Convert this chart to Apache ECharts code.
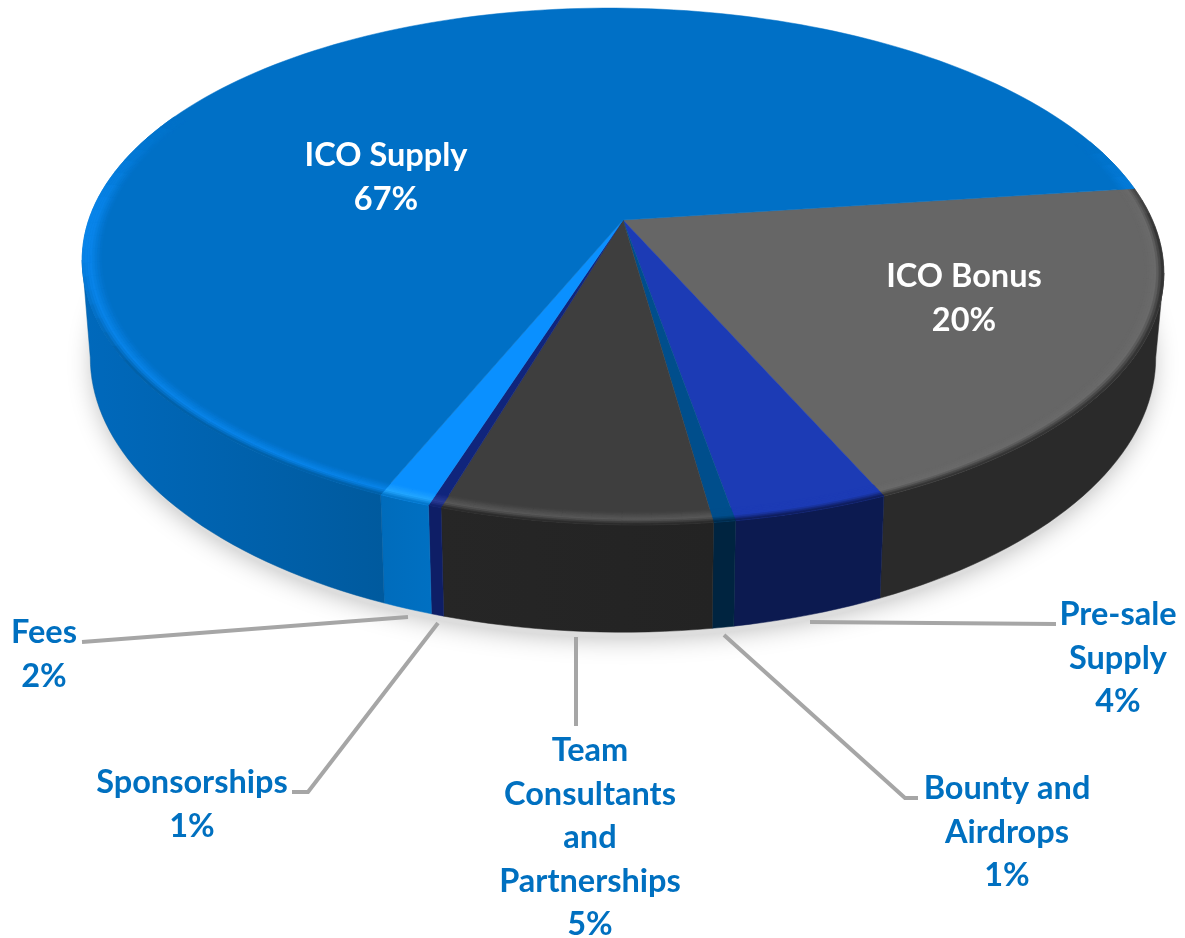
<!DOCTYPE html>
<html>
<head>
<meta charset="utf-8">
<title>Token distribution</title>
<script src="https://cdn.jsdelivr.net/npm/echarts@6/dist/echarts.min.js"></script>
<style>
    html, body { margin: 0; padding: 0; background: #fff; }
    #main { width: 1185px; height: 938px; }
</style>
</head>
<body>
<div id="main"></div>
<script>
// slices, clockwise from the ICO Bonus edge
var categories = ['ICO Bonus', 'Pre-sale Supply', 'Bounty and Airdrops', 'Team Consultants and Partnerships', 'Sponsorships', 'Fees', 'ICO Supply'];
// share of the circle as drawn in the picture (the printed labels are rounded differently)
var sliceShares = [20.75, 3.94, 0.55, 6.8, 0.33, 1.3, 66.33];
// percentages printed on the labels
var labelPercents = ['20%', '4%', '1%', '5%', '1%', '2%', '67%'];
// wrapped label lines
var labelLines = [['ICO Bonus'], ['Pre-sale', 'Supply'], ['Bounty and', 'Airdrops'], ['Team', 'Consultants', 'and', 'Partnerships'], ['Sponsorships'], ['Fees'], ['ICO Supply']];

// styles
var topColors = ['#666666', '#1c3bb5', '#004e8c', '#3e3e3e', '#10257c', '#0a90ff', '#0070c6'];
var wallColors = ['#2a2a2a', '#0c1a50', '#002440', '#232323', '#0e1e66', '#0070c2', '#005a9e'];
var wallLeftColors = ['#2a2a2a', '#0c1a50', '#002440', '#262626', '#0e1e66', '#006cbc', '#0069bc'];
var rimColors = ['#6a6a6a', '#1c3bb5', '#004e8c', '#5a5a5a', '#2c3c96', '#22a6ff', '#0884ea'];
var labelColors = ['#fff', '#0070c0', '#0070c0', '#0070c0', '#0070c0', '#0070c0', '#fff'];

// label layout: centre x, y of first line
var labelPos = [[964, 277], [1118, 615], [1007, 789], [590, 751], [192, 783], [44, 633], [386, 156]];
var leaderLines = [
    null,
    [[810, 622], [1056, 624]],
    [[724, 635], [905, 798], [918, 798]],
    [[576, 637], [576, 726]],
    [[438, 623], [308, 792], [292, 792]],
    [[408, 617], [82, 642]],
    null
];

// projection of the tilted disc
var CX = 623, CY = 220, RX = 532, RY = 250, PERSP = 0.18, DEPTH = 88;
var SHEAR = 0.012, TAPER = 0.015;
var START_DEG = -8.9;
// angle where the rim is widest on screen, the wall stops there
var TANGENT_DEG = Math.asin(PERSP) * 180 / Math.PI;

function project(deg, r, h) {
    var a = deg * Math.PI / 180;
    var u = r * Math.cos(a), v = r * Math.sin(a);
    var w = 1 - PERSP * v;
    var d = (h || 0) / DEPTH;
    var dx = RX * u / w;
    return [CX + dx * (1 - TAPER * d), CY + (RY * v + (h || 0)) / w + SHEAR * dx * Math.max(0, 1 - d)];
}

function arc(a0, a1, r, h) {
    var pts = [];
    var n = Math.max(2, Math.ceil(Math.abs(a1 - a0) / 1.5));
    for (var i = 0; i <= n; i++) {
        pts.push(project(a0 + (a1 - a0) * i / n, r, h));
    }
    return pts;
}

// start and end angle per slice
var angles = [];
var sum = sliceShares.reduce(function (s, v) { return s + v; }, 0);
var acc = START_DEG;
sliceShares.forEach(function (v) {
    var next = acc + v / sum * 360;
    angles.push([acc, next]);
    acc = next;
});
var seriesData = sliceShares.map(function (v, i) {
    return { name: categories[i], value: [i, angles[i][0], angles[i][1], v] };
});

function renderShadow() {
    var pts = arc(0, 360, 0.995, DEPTH + 6);
    return {
        type: 'polygon',
        shape: { points: pts },
        style: { fill: '#ddd', shadowBlur: 26, shadowColor: 'rgba(0,0,0,0.28)' }
    };
}

function renderWall(params, api) {
    var i = api.value(0);
    var a0 = Math.max(api.value(1), TANGENT_DEG), a1 = Math.min(api.value(2), 180 - TANGENT_DEG);
    if (a1 <= a0) return;
    var pts = arc(a0, a1, 1, 0).concat(arc(a1, a0, 1, DEPTH));
    return {
        type: 'polygon',
        shape: { points: pts },
        style: {
            fill: new echarts.graphic.LinearGradient(0, 0, 1, 0, [
                { offset: 0, color: wallLeftColors[i] },
                { offset: 1, color: wallColors[i] }
            ]),
            stroke: wallColors[i],
            lineWidth: 0.5
        }
    };
}

function renderTop(params, api) {
    var i = api.value(0);
    var pts = [[CX, CY]].concat(arc(api.value(1), api.value(2), 1, 0));
    return {
        type: 'polygon',
        shape: { points: pts },
        style: { fill: topColors[i], stroke: topColors[i], lineWidth: 0.5 }
    };
}

// how strong the bevel is at an angle: full over the front, fading at the back
function bevelStrength(deg) {
    var d = deg > 270 ? deg - 360 : deg;
    if (d < 0) return Math.max(0, 1 + d / 20);
    if (d > 180) return Math.max(0, 1 - (d - 180) / 25);
    return 1;
}

function renderBevel(params, api) {
    var i = api.value(0);
    var a0 = api.value(1), a1 = api.value(2);
    var children = [];
    var rings = 8, inner = 0.965, step = 3;
    var segs = Math.max(1, Math.ceil((a1 - a0) / step));
    for (var s = 0; s < segs; s++) {
        var b0 = a0 + (a1 - a0) * s / segs, b1 = a0 + (a1 - a0) * (s + 1) / segs;
        var mid = (b0 + b1) / 2;
        var k = bevelStrength(mid);
        if (k <= 0) continue;
        // the blue rim has no wall under it on the far left
        var toWall = i === 6 ? Math.max(0, Math.min(1, (172 - mid) / 25)) : 1;
        for (var r = 0; r < rings; r++) {
            var t = (r + 0.5) / rings;
            var r0 = inner + (1 - inner) * r / rings, r1 = inner + (1 - inner) * (r + 1) / rings;
            // face -> highlight -> wall going outwards
            var c = t < 0.6
                ? echarts.color.lerp(t / 0.6, [topColors[i], rimColors[i]])
                : echarts.color.lerp((t - 0.6) / 0.4 * toWall, [rimColors[i], wallColors[i]]);
            c = echarts.color.lerp(k, [topColors[i], c]);
            children.push({
                type: 'polygon',
                shape: { points: arc(b0, b1, r0, 0).concat(arc(b1, b0, r1, 0)) },
                style: { fill: c, stroke: c, lineWidth: 0.6 }
            });
        }
    }
    return { type: 'group', children: children };
}

function renderLabel(params, api) {
    var i = api.value(0);
    var children = [];
    var leader = leaderLines[i];
    if (leader) {
        children.push({
            type: 'polyline',
            shape: { points: leader },
            style: { stroke: '#a6a6a6', lineWidth: 4, fill: null }
        });
    }
    var lines = labelLines[i].concat(labelPercents[i]);
    lines.forEach(function (line, k) {
        children.push({
            type: 'text',
            style: {
                text: line,
                x: labelPos[i][0],
                y: labelPos[i][1] + k * 43.4,
                align: 'center',
                verticalAlign: 'middle',
                fill: labelColors[i],
                font: 'bold 32.5px Lato'
            }
        });
    });
    return { type: 'group', children: children };
}

function layer(name, fn, z) {
    return { name: name, type: 'custom', coordinateSystem: 'none', renderItem: fn, data: seriesData, z: z, silent: true, animation: false, clip: false };
}

var chart = echarts.init(document.getElementById('main'), null, { renderer: 'canvas' });
chart.setOption({
    animation: false,
    backgroundColor: '#fff',
    series: [
        { name: 'shadow', type: 'custom', coordinateSystem: 'none', renderItem: renderShadow, data: [0], z: 1, silent: true },
        layer('wall', renderWall, 2),
        layer('top', renderTop, 3),
        layer('bevel', renderBevel, 4),
        layer('label', renderLabel, 5)
    ]
});
</script>
</body>
</html>
